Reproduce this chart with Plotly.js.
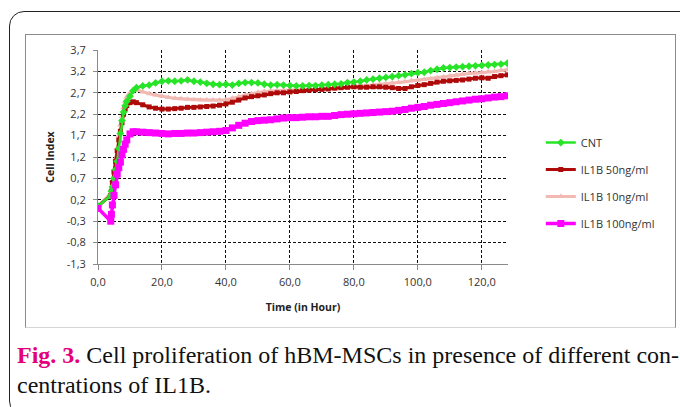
<!DOCTYPE html>
<html>
<head>
<meta charset="utf-8">
<script src="https://cdn.plot.ly/plotly-3.0.1.min.js"></script>
<style>
  html, body { margin:0; padding:0; background:#fff; }
  #wrap { position:relative; width:680px; height:407px; overflow:hidden; background:#fff; }
  #frame { position:absolute; left:9px; top:11px; width:690px; height:405px; border:1px solid #222; border-radius:15px; box-sizing:border-box; }
  #box { position:absolute; left:25px; top:34px; width:651px; height:294px; border:1px solid #8c8c8c; border-bottom-color:#d6d6d6; box-sizing:border-box; background:#fff; }
  #chart { position:absolute; left:0; top:0; width:680px; height:407px; }
  .cap { position:absolute; left:17px; font-family:"Liberation Serif","Times New Roman",serif; font-size:24px; line-height:24px; color:#111; white-space:nowrap; }
  .cap b { color:#e4007c; }
</style>
</head>
<body>
<div id="wrap">
  <div id="frame"></div>
  <div id="box"></div>
  <div id="chart"></div>
  <div class="cap" style="top:343px;"><b>Fig. 3.</b> Cell proliferation of hBM-MSCs in presence of different con-</div>
  <div class="cap" style="top:373px;">centrations of IL1B.</div>
</div>
<script>
// Time points (hours)
const hours = [0,4,4.2,4.5,5,5.5,6,6.5,7,7.5,8,8.5,9,10,11,12,
  14,16,18,20,22,24,26,28,30,32,34,36,38,40,42,44,46,48,50,52,54,56,58,60,
  62,64,66,68,70,72,74,76,78,80,82,84,86,88,90,92,94,96,98,100,102,104,106,108,
  110,112,114,116,118,120,122,124,126,128];

const cnt = [0.05,0.30,0.40,0.50,0.70,0.90,1.10,1.40,1.75,2.05,2.25,2.40,2.50,2.62,2.75,2.82,
  2.86,2.88,2.93,2.97,2.98,2.97,2.98,3.00,2.97,2.95,
  2.92,2.90,2.89,2.90,2.88,2.92,2.94,2.94,2.93,2.90,
  2.88,2.89,2.88,2.87,2.86,2.86,2.87,2.87,2.88,2.89,
  2.90,2.91,2.94,2.95,2.97,3.00,3.02,3.04,3.06,3.08,
  3.10,3.12,3.15,3.17,3.18,3.22,3.25,3.28,3.29,3.30,
  3.31,3.32,3.33,3.34,3.35,3.36,3.37,3.39];

const il50 = [0.05,0.30,0.40,0.60,0.85,1.10,1.35,1.60,1.80,2.00,2.20,2.32,2.40,2.47,2.49,2.47,
  2.42,2.37,2.34,2.32,2.32,2.33,2.34,2.36,2.36,2.37,
  2.38,2.39,2.41,2.44,2.48,2.53,2.58,2.61,2.63,2.65,
  2.68,2.70,2.70,2.72,2.73,2.75,2.76,2.77,2.78,2.79,
  2.81,2.82,2.83,2.84,2.83,2.83,2.84,2.84,2.83,2.82,
  2.80,2.80,2.84,2.87,2.89,2.92,2.95,2.97,2.98,2.99,
  3.00,3.02,3.04,3.05,3.04,3.08,3.10,3.12];

const il10 = [0.05,0.35,0.45,0.65,0.90,1.15,1.40,1.70,1.95,2.15,2.35,2.50,2.60,2.70,2.76,2.77,
  2.72,2.68,2.65,2.62,2.59,2.57,2.56,2.55,2.54,2.53,
  2.53,2.53,2.53,2.54,2.57,2.61,2.65,2.68,2.71,2.73,
  2.74,2.75,2.76,2.77,2.77,2.77,2.77,2.77,2.78,2.78,
  2.79,2.80,2.82,2.84,2.86,2.87,2.88,2.90,2.91,2.93,
  2.94,2.96,2.98,2.99,3.01,3.03,3.05,3.07,3.09,3.11,
  3.13,3.15,3.16,3.17,3.19,3.20,3.22,3.24];

const il100 = [0.00,-0.30,-0.14,0.08,0.30,0.55,0.80,0.95,1.08,1.25,1.38,1.50,1.60,1.74,1.79,1.79,
  1.78,1.77,1.76,1.75,1.74,1.75,1.75,1.76,1.76,1.77,
  1.78,1.79,1.80,1.82,1.88,1.94,1.99,2.03,2.05,2.06,
  2.07,2.09,2.11,2.12,2.12,2.13,2.14,2.14,2.15,2.15,
  2.17,2.19,2.20,2.21,2.22,2.23,2.24,2.25,2.26,2.27,
  2.29,2.31,2.34,2.36,2.38,2.41,2.43,2.45,2.47,2.49,
  2.51,2.53,2.55,2.56,2.58,2.60,2.61,2.63];

const seriesNames = ['CNT','IL1B 50ng/ml','IL1B 10ng/ml','IL1B 100ng/ml'];

const xTickVals = [0,20,40,60,80,100,120];
const xTickText = ['0,0','20,0','40,0','60,0','80,0','100,0','120,0'];
const yTickVals = [-1.3,-0.8,-0.3,0.2,0.7,1.2,1.7,2.2,2.7,3.2,3.7];
const yTickText = ['-1,3','-0,8','-0,3','0,2','0,7','1,2','1,7','2,2','2,7','3,2','3,7'];

const styles = [
  {color:'rgb(40,228,40)', symbol:'diamond', size:6, lw:2.5},
  {color:'rgb(175,10,10)', symbol:'square', size:5, lw:3},
  {color:'rgb(242,184,178)', symbol:'triangle-up', size:6, lw:3},
  {color:'rgb(255,0,255)', symbol:'square', size:7, lw:3.5}
];
const ys = [cnt, il50, il10, il100];

const traces = ys.map((y, i) => ({
  x: hours, y: y, name: seriesNames[i], type:'scatter', mode:'lines+markers',
  legendgroup: 'g'+i,
  line: {color: styles[i].color, width: styles[i].lw},
  marker: {color: styles[i].color, symbol: styles[i].symbol, size: styles[i].size, line:{width:0}}
}));
// draw order: pink under dark red, green on top of pink
const drawOrder = [2,1,0,3];
const data = drawOrder.map(i => Object.assign({}, traces[i], {legendrank: i+1}));

const fam = '"Open Sans", Lato, sans-serif';
const axisFont = {family:fam, size:11, color:'#333'};

const layout = {
  width:680, height:407,
  margin:{l:98, r:172, t:50, b:143, pad:0},
  paper_bgcolor:'rgba(0,0,0,0)', plot_bgcolor:'rgba(0,0,0,0)',
  font: axisFont,
  showlegend:true,
  legend:{x:1.08, xanchor:'left', y:0.635, yanchor:'top', font:{family:fam, size:11, color:'#333'},
    bgcolor:'rgba(0,0,0,0)', traceorder:'grouped', tracegroupgap:8, itemwidth:30},
  xaxis:{
    range:[0,128.2], tickvals:xTickVals, ticktext:xTickText, tickfont:axisFont,
    showgrid:true, gridcolor:'#111', gridwidth:1, griddash:'3px,2px',
    zeroline:false, showline:true, linecolor:'#8a8a8a', linewidth:1,
    ticks:'outside', ticklen:5, tickcolor:'#8a8a8a', ticklabelstandoff:3,
    title:{text:'<b>Time (in Hour)</b>', font:{family:fam, size:10.5, color:'#222'}, standoff:15},
    fixedrange:true
  },
  yaxis:{
    range:[-1.3,3.7001], tickvals:yTickVals, ticktext:yTickText, tickfont:axisFont,
    showgrid:true, gridcolor:'#111', gridwidth:1, griddash:'3px,2px',
    zeroline:false, showline:true, linecolor:'#8a8a8a', linewidth:1,
    ticks:'outside', ticklen:4, tickcolor:'#8a8a8a', ticklabelstandoff:5,
    title:{text:'<b>Cell Index</b>', font:{family:fam, size:10.5, color:'#222'}, standoff:10},
    fixedrange:true
  }
};

Plotly.newPlot('chart', data, layout, {displayModeBar:false, staticPlot:true});
</script>
</body>
</html>
